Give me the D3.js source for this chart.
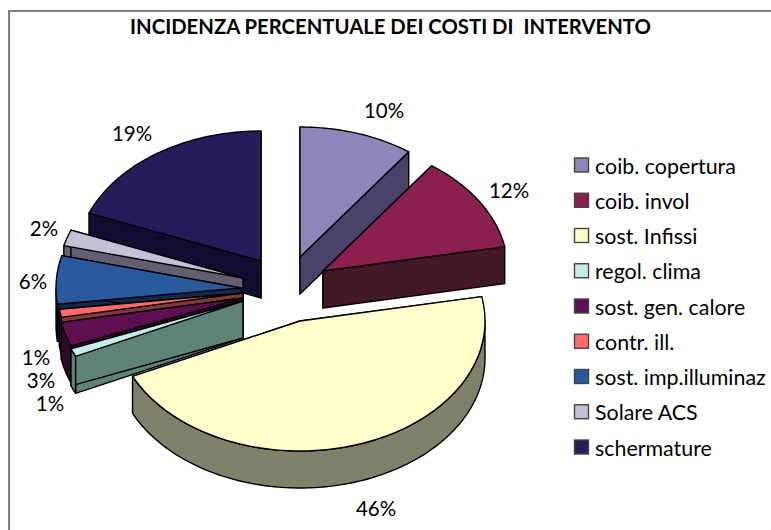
<!DOCTYPE html>
<html><head><meta charset="utf-8">
<script src="https://cdn.jsdelivr.net/npm/d3@7/dist/d3.min.js"></script>
<style>html,body{margin:0;padding:0;background:#fff;overflow:hidden}svg{display:block}text{font-family:Lato,"Open Sans",sans-serif;fill:#000}</style>
</head><body><svg id="c" width="771" height="530"></svg>
<script>
const titleText = "INCIDENZA PERCENTUALE DEI COSTI DI  INTERVENTO";
const categories = ["coib. copertura","coib. invol","sost. Infissi","regol. clima","sost. gen. calore","contr. ill.","sost. imp.illuminaz","Solare ACS","schermature"];
const values = [10,12,46,1,3,1,6,2,19];
const topColors = ["#9085b8","#8b2050","#ffffcc","#c5edea","#5e1050","#ff6b6b","#2a5a9e","#c4c0d8","#261c5c"];
const sideColors = ["#4a4268","#451828","#80816a","#5f8279","#30082a","#83383b","#15294f","#625f73","#120d30"];
// explosion of each slice: apex position, in pixels from the pie's resting centre
const explodeX = [28,51,28,-29,-29,-29,-31,-29,-11];
const explodeY = [-23,-9,41,21,18,13,8,-2,-19];
// outer label positions, in the same order as the categories
const labelX = [384,509,376,36,41,50,33,44,132];
const labelY = [111,191,509,358,381,404,282,229,134];

const svg = d3.select("#c");
const cx = 272, cy = 280, rx = 185, ry = 130, depth = 37;

// frame
svg.append("path").attr("d","M9,530V11H771").attr("fill","none").attr("stroke","#808080").attr("stroke-width",2);

svg.append("text").attr("x",390.5).attr("y",34).attr("text-anchor","middle")
  .attr("font-size",20.3).attr("font-weight",700).style("white-space","pre").text(titleText);

const arcs = d3.pie().value(d=>d).sort(null).startAngle(0).endAngle(2*Math.PI)(values);
const sx = d3.scaleLinear().domain([-1,1]).range([-rx,rx]);
const sy = d3.scaleLinear().domain([-1,1]).range([ry,-ry]);
const line = d3.line();
const px = (a,i)=>cx+explodeX[i]+sx(Math.sin(a));
const py = (a,i)=>cy+explodeY[i]+sy(Math.cos(a));
const arcPts = (a0,a1,i,dy=0)=>{
  const n = Math.max(2,Math.ceil((a1-a0)/0.02));
  return d3.range(n+1).map(k=>{const a=a0+(a1-a0)*k/n;return [px(a,i),py(a,i)+dy];});
};
const stroke = {stroke:"#000","stroke-width":1.4,"stroke-linejoin":"round"};
function face(g,pts,fill){
  const p = g.append("path").attr("d",line(pts)+"Z").attr("fill",fill);
  Object.entries(stroke).forEach(([k,v])=>p.attr(k,v));
}
// back-to-front painting order
const order = [0,1,8,7,6,5,4,3,2];
order.forEach(i=>{
  const d = arcs[i], g = svg.append("g");
  const ax = cx+explodeX[i], ay = cy+explodeY[i];
  [d.startAngle,d.endAngle].forEach(a=>{
    face(g,[[ax,ay],[px(a,i),py(a,i)],[px(a,i),py(a,i)+depth],[ax,ay+depth]],sideColors[i]);
  });
  // rim: only the part of the arc facing the viewer
  const r0 = Math.max(d.startAngle,Math.PI/2), r1 = Math.min(d.endAngle,3*Math.PI/2);
  if(r1>r0){
    face(g,arcPts(r0,r1,i).concat(arcPts(r0,r1,i,depth).reverse()),sideColors[i]);
  }
  face(g,[[ax,ay]].concat(arcPts(d.startAngle,d.endAngle,i)),topColors[i]);
});

values.forEach((v,i)=>{
  svg.append("text").attr("x",labelX[i]).attr("y",labelY[i]).attr("dy","0.35em")
    .attr("text-anchor","middle").attr("font-size",20.5).text(v+"%");
});

const ly = d3.scalePoint().domain(categories).range([165,447]);
const lg = svg.append("g").selectAll("g").data(categories).join("g")
  .attr("transform",d=>`translate(0,${ly(d)})`);
lg.append("rect").attr("x",574.5).attr("y",-7).attr("width",14).attr("height",14)
  .attr("fill",(d,i)=>topColors[i]).attr("stroke","#444").attr("stroke-width",1.4);
lg.append("text").attr("x",595).attr("y",1).attr("dy","0.35em").attr("font-size",21.4).text(d=>d);
</script></body></html>
